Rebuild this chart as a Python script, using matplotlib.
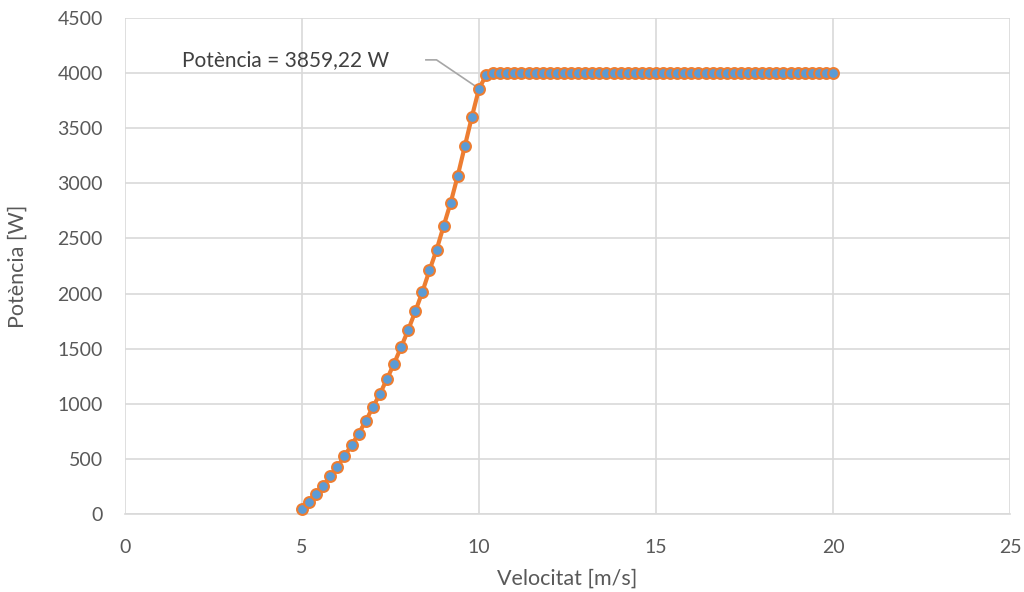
import matplotlib
matplotlib.use("Agg")
import matplotlib.pyplot as plt

# Wind turbine power curve: wind speed [m/s] vs. output power [W]
velocitat = [
    5.0, 5.2, 5.4, 5.6, 5.8, 6.0, 6.2, 6.4, 6.6, 6.8,
    7.0, 7.2, 7.4, 7.6, 7.8, 8.0, 8.2, 8.4, 8.6, 8.8,
    9.0, 9.2, 9.4, 9.6, 9.8, 10.0, 10.2, 10.4, 10.6, 10.8,
    11.0, 11.2, 11.4, 11.6, 11.8, 12.0, 12.2, 12.4, 12.6, 12.8,
    13.0, 13.2, 13.4, 13.6, 13.8, 14.0, 14.2, 14.4, 14.6, 14.8,
    15.0, 15.2, 15.4, 15.6, 15.8, 16.0, 16.2, 16.4, 16.6, 16.8,
    17.0, 17.2, 17.4, 17.6, 17.8, 18.0, 18.2, 18.4, 18.6, 18.8,
    19.0, 19.2, 19.4, 19.6, 19.8, 20.0,
]
potencia = [
    43, 112, 181, 257, 342, 429, 526, 626, 729, 844,
    968, 1089, 1225, 1364, 1515, 1670, 1838, 2015, 2210, 2395,
    2612, 2825, 3070, 3338, 3605, 3859.22, 3980, 4000, 4000, 4000,
    4000, 4000, 4000, 4000, 4000, 4000, 4000, 4000, 4000, 4000,
    4000, 4000, 4000, 4000, 4000, 4000, 4000, 4000, 4000, 4000,
    4000, 4000, 4000, 4000, 4000, 4000, 4000, 4000, 4000, 4000,
    4000, 4000, 4000, 4000, 4000, 4000, 4000, 4000, 4000, 4000,
    4000, 4000, 4000, 4000, 4000, 4000,
]
x_ticks = [0, 5, 10, 15, 20, 25]
y_ticks = [0, 500, 1000, 1500, 2000, 2500, 3000, 3500, 4000, 4500]

# point highlighted by the callout
punt_v = 10.0
punt_p = 3859.22

plt.rcParams["font.family"] = ["Lato", "DejaVu Sans"]

text_col = "#595959"
grid_col = "#D9D9D9"

fig = plt.figure(figsize=(10.24, 5.92), dpi=100)
ax = fig.add_axes([0.1221, 0.1318, 0.8642, 0.8378])

ax.plot(velocitat, potencia, color="#ED7D31", lw=3.0, marker="o",
        markersize=7.8, markerfacecolor="#5B9BD5", markeredgecolor="#ED7D31",
        markeredgewidth=1.5, zorder=3, clip_on=False)

ax.set_xlim(0, 25)
ax.set_ylim(0, 4500)
ax.set_xticks(x_ticks)
ax.set_yticks(y_ticks)
ax.grid(True, color=grid_col, lw=1.2)
ax.set_axisbelow(True)
for side in ["top", "right", "left"]:
    ax.spines[side].set_visible(False)
ax.spines["bottom"].set_color(grid_col)
ax.spines["bottom"].set_linewidth(1.2)
ax.tick_params(axis="both", length=0, labelsize=14, colors=text_col)
ax.tick_params(axis="x", pad=18)
ax.tick_params(axis="y", pad=16)

ax.set_xlabel("Velocitat [m/s]", fontsize=15.5, color=text_col, labelpad=9)
ax.set_ylabel("Potència [W]", fontsize=15.5, color=text_col, labelpad=21)

# callout with leader line
lbl = f"Potència = {punt_p:.2f} W".replace(".", ",")
ax.text(1.62, 4120, lbl, fontsize=15, color="#404040", ha="left", va="center")
ax.plot([8.5, 8.8, punt_v], [4120, 4120, punt_p], color="#A6A6A6", lw=1.2, zorder=2)

fig.savefig("out.png", dpi=100)
